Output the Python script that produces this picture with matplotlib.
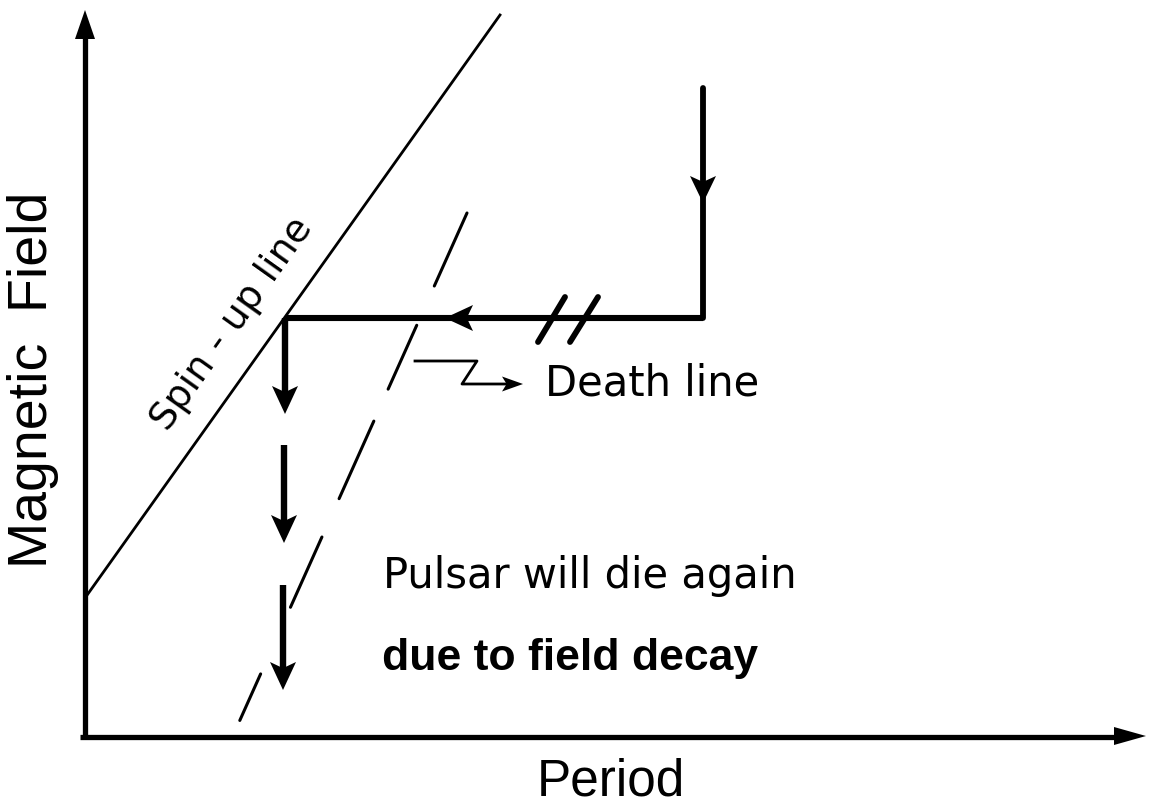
import numpy as np
import matplotlib
matplotlib.use("Agg")
import matplotlib.pyplot as plt

# ---- schematic data (canvas units: x right, y down) ----
axis_origin = (85, 737)
yaxis_top = 10
xaxis_right = 1146
xaxis_left = 80

spinup_start = (85, 598)
spinup_end = (500, 15)

corner_x = 285          # where the track meets the spin-up line
track_y = 318           # level of the horizontal track
track_right_x = 703
drop_top_y = 88
drop_arrow_tip_y = 203
left_arrow_tip_x = 445

# vertical field-decay arrows (start y, tip y, x)
decay_starts = [318, 445, 585]
decay_tips = [414, 543, 690]
decay_xs = [285, 284, 283]

# double slash marks on the track
slash_bottom = [(538, 342), (570, 342)]
slash_top = [(565, 297), (598, 297)]

# dashed death line
death_top = (467, 213)
death_bottom = (240, 720)
death_dashes = [(0, 80), (123, 193), (228, 313), (355, 432), (505, 556)]  # distance along line

# squiggle pointer to "Death line"
squiggle_x = [415, 477, 462, 523]
squiggle_y = [361, 361, 384, 384]

labels = {
    "ylabel": "Magnetic  Field",
    "xlabel": "Period",
    "spin": "Spin - up line",
    "death": "Death line",
    "line1": "Pulsar will die again",
    "line2": "due to field decay",
}

fig = plt.figure(figsize=(11.53, 8.11), dpi=100)
ax = fig.add_axes([0, 0, 1, 1])
ax.set_xlim(0, 1153)
ax.set_ylim(811, 0)
ax.axis("off")

K = "black"


def arrowhead(tip, direction, length, half, notch=0.78):
    d = np.array(direction, float)
    d /= np.linalg.norm(d)
    n = np.array([-d[1], d[0]])
    t = np.array(tip, float)
    back = t - d * length
    pts = [t, back + n * half, t - d * length * notch, back - n * half]
    pts = np.array(pts)
    ax.fill(pts[:, 0], pts[:, 1], color=K, lw=0, zorder=5)


# axes
ox, oy = axis_origin
ax.plot([ox, ox], [oy, yaxis_top + 20], color=K, lw=3.8, solid_capstyle="butt")
arrowhead((ox, yaxis_top), (0, -1), 29, 10, notch=1.0)
ax.plot([xaxis_left, xaxis_right - 20], [oy, oy], color=K, lw=3.8, solid_capstyle="butt")
arrowhead((xaxis_right, oy - 1), (1, 0), 32, 9, notch=1.0)

# spin-up line
ax.plot([spinup_start[0], spinup_end[0]], [spinup_start[1], spinup_end[1]], color=K, lw=2.0)

# evolutionary track
ax.plot([track_right_x, track_right_x], [drop_top_y, track_y], color=K, lw=4.2,
        solid_capstyle="round", solid_joinstyle="miter")
ax.plot([corner_x, track_right_x], [track_y, track_y], color=K, lw=4.4,
        solid_capstyle="butt")
arrowhead((track_right_x, drop_arrow_tip_y), (0, 1), 27, 13)
arrowhead((left_arrow_tip_x, track_y), (-1, 0), 28, 13)

for (bx, by), (tx, ty) in zip(slash_bottom, slash_top):
    ax.plot([bx, tx], [by, ty], color=K, lw=4.2, solid_capstyle="round")

# field decay arrows
for s, t, x in zip(decay_starts, decay_tips, decay_xs):
    ax.plot([x, x], [s, t - 12], color=K, lw=4.6, solid_capstyle="butt")
    arrowhead((x, t), (0, 1), 28, 13)

# dashed death line
p0 = np.array(death_top, float)
p1 = np.array(death_bottom, float)
u = (p1 - p0) / np.linalg.norm(p1 - p0)
for a, b in death_dashes:
    q0 = p0 + u * a
    q1 = p0 + u * b
    ax.plot([q0[0], q1[0]], [q0[1], q1[1]], color=K, lw=2.2, solid_capstyle="round")

# squiggle pointer
ax.plot(squiggle_x[:-1] + [squiggle_x[-1] - 14], squiggle_y, color=K, lw=2.0)
arrowhead((squiggle_x[-1], squiggle_y[-1]), (1, 0), 21, 7.5)

# texts
ax.text(33, 380, labels["ylabel"], rotation=90, ha="center", va="center",
        fontsize=40, family="Liberation Sans")
ax.text(611, 782, labels["xlabel"], ha="center", va="center",
        fontsize=37, family="Liberation Sans")
ang = np.degrees(np.arctan2(spinup_start[1] - spinup_end[1], spinup_end[0] - spinup_start[0]))
ax.text(232, 324, labels["spin"], rotation=ang, rotation_mode="anchor",
        ha="center", va="center", fontsize=27.5, family="DejaVu Sans")
ax.text(545, 383, labels["death"], ha="left", va="center", fontsize=30,
        family="DejaVu Sans")
ax.text(383, 588, labels["line1"], ha="left", va="baseline", fontsize=30,
        family="DejaVu Sans")
ax.text(382, 670, labels["line2"], ha="left", va="baseline", fontsize=32,
        family="Liberation Sans", fontweight="bold")

fig.savefig("out.png", dpi=100, facecolor="white")
